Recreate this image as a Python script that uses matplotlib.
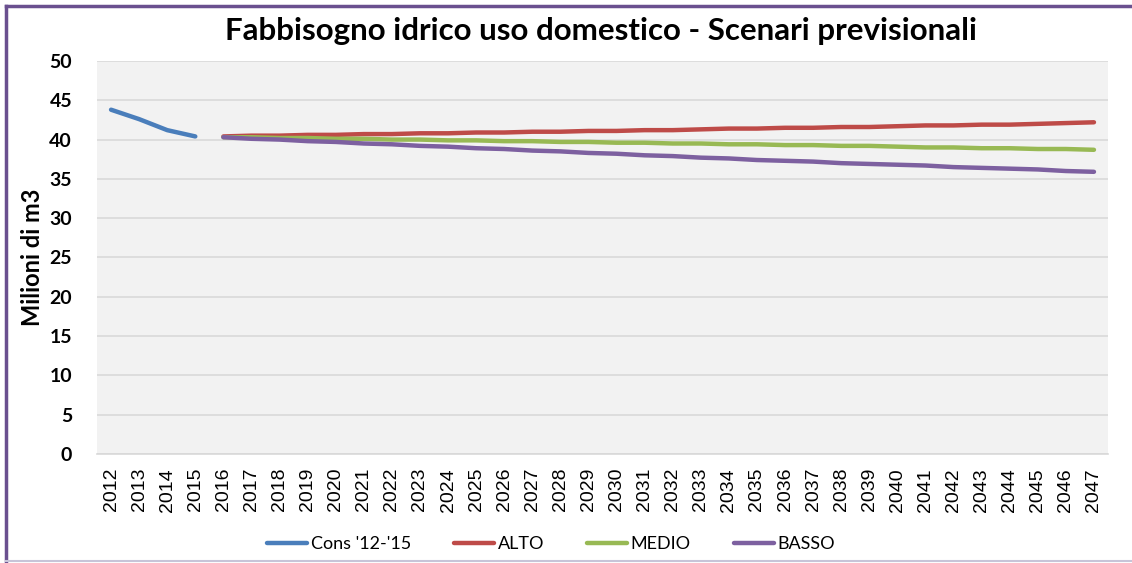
import matplotlib
matplotlib.use("Agg")
import matplotlib.pyplot as plt
from matplotlib.lines import Line2D

years = [str(y) for y in range(2012, 2048)]

cons_years = years[:4]
cons = [43.8, 42.6, 41.2, 40.4]

scen_years = years[4:]
alto = [40.4, 40.5, 40.5, 40.6, 40.6, 40.7, 40.7, 40.8, 40.8, 40.9, 40.9,
        41.0, 41.0, 41.1, 41.1, 41.2, 41.2, 41.3, 41.4, 41.4, 41.5, 41.5,
        41.6, 41.6, 41.7, 41.8, 41.8, 41.9, 41.9, 42.0, 42.1, 42.2]
medio = [40.3, 40.3, 40.2, 40.2, 40.1, 40.1, 40.0, 40.0, 39.9, 39.9, 39.8,
         39.8, 39.7, 39.7, 39.6, 39.6, 39.5, 39.5, 39.4, 39.4, 39.3, 39.3,
         39.2, 39.2, 39.1, 39.0, 39.0, 38.9, 38.9, 38.8, 38.8, 38.7]
basso = [40.3, 40.1, 40.0, 39.8, 39.7, 39.5, 39.4, 39.2, 39.1, 38.9, 38.8,
         38.6, 38.5, 38.3, 38.2, 38.0, 37.9, 37.7, 37.6, 37.4, 37.3, 37.2,
         37.0, 36.9, 36.8, 36.7, 36.5, 36.4, 36.3, 36.2, 36.0, 35.9]

labels = ["Cons '12-'15", "ALTO", "MEDIO", "BASSO"]
colors = ["#4A7EBB", "#BE4B48", "#98B954", "#7D60A0"]

fig = plt.figure(figsize=(11.32, 5.63), dpi=100)
ax = fig.add_axes([0.0857, 0.1936, 0.8931, 0.6981])

idx = {y: i for i, y in enumerate(years)}
ax.plot([idx[y] for y in cons_years], cons, color=colors[0], lw=3.2, solid_capstyle="round")
for vals, c in zip([alto, medio, basso], colors[1:]):
    ax.plot([idx[y] for y in scen_years], vals, color=c, lw=3.2, solid_capstyle="round")

ax.set_facecolor("#F2F2F2")
ax.set_xlim(-0.5, len(years) - 0.5)
ax.set_ylim(0, 50)
ax.set_yticks(range(0, 51, 5))
ax.set_xticks(range(len(years)))
ax.set_xticklabels(years, rotation=90, fontsize=14, family="Liberation Sans")
for t in ax.get_yticklabels():
    t.set_fontsize(14)
    t.set_fontweight("bold")
    t.set_family("Lato")
ax.yaxis.grid(True, color="#D9D9D9", lw=1.2)
ax.set_axisbelow(True)
for s in ["top", "right", "left"]:
    ax.spines[s].set_visible(False)
ax.spines["bottom"].set_color("#D9D9D9")
ax.spines["bottom"].set_linewidth(1.2)
ax.tick_params(length=0, pad=10)
ax.tick_params(axis="y", pad=18)

ax.set_ylabel("Milioni di m3", fontsize=17, fontweight="bold", family="Lato", labelpad=4)
fig.text(0.531, 0.945, "Fabbisogno idrico uso domestico - Scenari previsionali",
         ha="center", va="center", fontsize=22.5, fontweight="bold", family="Lato")

handles = [Line2D([], [], color=c, lw=3.2, solid_capstyle="round") for c in colors]
fig.legend(handles, labels, loc="center", bbox_to_anchor=(0.487, 0.034), ncol=4,
           frameon=False, prop={"family": "Lato", "size": 13}, handlelength=2.2,
           handletextpad=0.2, columnspacing=2.4)

# outer frame like the original chart box
fig.add_artist(Line2D([0.005, 1.0], [0.990, 0.990], color="#6A508F", lw=2.5, transform=fig.transFigure))
fig.add_artist(Line2D([0.005, 0.005], [0.003, 0.990], color="#6A508F", lw=2.5, transform=fig.transFigure))
fig.add_artist(Line2D([0.005, 1.0], [0.003, 0.003], color="#C8C4D8", lw=1.5, transform=fig.transFigure))

fig.savefig("out.png", dpi=100)
